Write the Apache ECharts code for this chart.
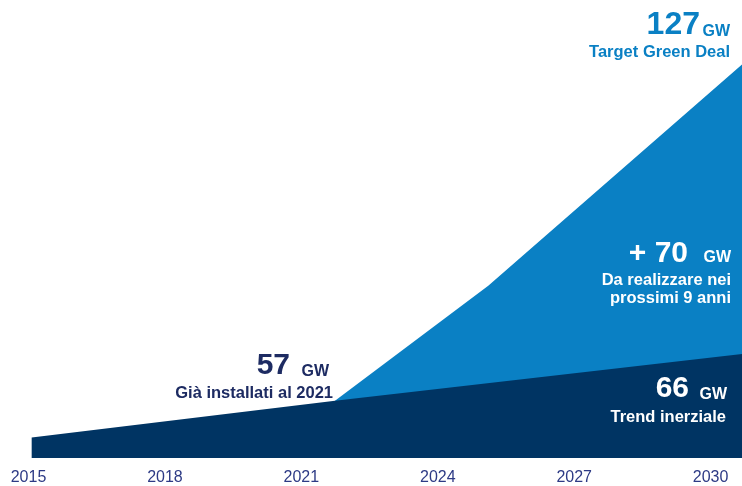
<!DOCTYPE html>
<html>
<head>
<meta charset="utf-8">
<script src="https://cdn.jsdelivr.net/npm/echarts@6/dist/echarts.min.js"></script>
<style>
html,body{margin:0;padding:0;background:#fff;}
#c{width:742px;height:486px;}
</style>
</head>
<body>
<div id="c"></div>
<script>
// Data (years, GW)
const tickYears = [2015, 2018, 2021, 2024, 2027, 2030];
const trendYears = [2015.07, 2021.74, 2030.69];
const trendValues = [48.8, 56.5, 66.3];
const targetYears = [2021.74, 2025.11, 2030.69];
const targetValues = [56.5, 80.6, 127];

const DARK = '#003463';
const BLUE = '#0A80C4';
const NAVY_TEXT = '#1D2B62';
const FONT = 'Arial, "Liberation Sans", sans-serif';

const chart = echarts.init(document.getElementById('c'), null, {renderer: 'canvas'});

function txt(text, x, y, size, color) {
  return {
    type: 'text', x: x, y: y, silent: true, z: 100,
    style: {
      text: text, fill: color, font: 'bold ' + size + 'px ' + FONT,
      textAlign: 'right', textVerticalAlign: 'middle'
    }
  };
}

const option = {
  animation: false,
  backgroundColor: '#fff',
  grid: {left: 28.5, right: 0, top: 0, bottom: 25, containLabel: false},
  xAxis: {
    type: 'value', min: 2015, max: 2030.69,
    axisLine: {show: false}, axisTick: {show: false}, splitLine: {show: false},
    axisLabel: {
      customValues: tickYears, margin: 12,
      color: '#2D3A85', fontSize: 16, fontFamily: FONT,
      formatter: v => String(v)
    }
  },
  yAxis: {
    type: 'value', min: 44.5, max: 140.5, show: false,
    splitLine: {show: false}
  },
  series: [
    {
      name: 'Target Green Deal', type: 'line', symbol: 'none',
      data: targetYears.map((y, i) => [y, targetValues[i]]),
      lineStyle: {width: 0}, areaStyle: {color: BLUE, opacity: 1, origin: 'start'},
      z: 1
    },
    {
      name: 'Trend inerziale', type: 'line', symbol: 'none',
      data: trendYears.map((y, i) => [y, trendValues[i]]),
      lineStyle: {width: 0}, areaStyle: {color: DARK, opacity: 1, origin: 'start'},
      z: 2
    }
  ],
  graphic: {
    elements: [
      txt('127', 700, 25, 32, BLUE),
      txt('GW', 730, 32, 16, BLUE),
      txt('Target Green Deal', 730, 52, 16.5, BLUE),
      txt('+ 70', 688, 254, 30, '#fff'),
      txt('GW', 731, 258, 16, '#fff'),
      txt('Da realizzare nei', 731, 280, 16.5, '#fff'),
      txt('prossimi 9 anni', 731, 298, 16.5, '#fff'),
      txt('66', 689, 389, 30, '#fff'),
      txt('GW', 727, 395, 16, '#fff'),
      txt('Trend inerziale', 726, 417, 16.5, '#fff'),
      txt('57', 290, 366, 30, NAVY_TEXT),
      txt('GW', 329, 372, 16, NAVY_TEXT),
      txt('Già installati al 2021', 333, 393, 16.5, NAVY_TEXT)
    ]
  }
};
chart.setOption(option);
</script>
</body>
</html>
